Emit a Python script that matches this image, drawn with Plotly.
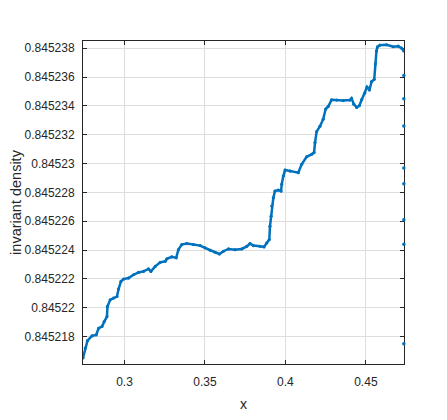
import plotly.graph_objects as go

# Curve samples (x, invariant density)
x_vals = [0.2742, 0.2756, 0.2770, 0.2798, 0.2824, 0.2839, 0.2860, 0.2874, 0.2891, 0.2894,
          0.2911, 0.2932, 0.2953, 0.2963, 0.2978, 0.2994, 0.3025, 0.3056, 0.3087, 0.3118,
          0.3149, 0.3164, 0.3191, 0.3222, 0.3253, 0.3263, 0.3294, 0.3321, 0.3335, 0.3356,
          0.3387, 0.3428, 0.3470, 0.3501, 0.3532, 0.3563, 0.3590, 0.3615, 0.3646, 0.3687,
          0.3729, 0.3760, 0.3780, 0.3801, 0.3842, 0.3867, 0.3884, 0.3900, 0.3904, 0.3911,
          0.3915, 0.3925, 0.3935, 0.3956, 0.3973, 0.3977, 0.3987, 0.3998, 0.4029, 0.4080,
          0.4101, 0.4132, 0.4163, 0.4178, 0.4184, 0.4194, 0.4215, 0.4235, 0.4250, 0.4266,
          0.4287, 0.4318, 0.4359, 0.4401, 0.4411, 0.4425, 0.4443, 0.4459, 0.4474, 0.4494,
          0.4507, 0.4522, 0.4536, 0.4552, 0.4559, 0.4566, 0.4572, 0.4587, 0.4629, 0.4670,
          0.4701, 0.4722, 0.4736]
y_offsets = [16.52, 17.21, 17.72, 18.05, 18.12, 18.58, 18.70, 19.04, 19.39, 20.09,
             20.55, 20.67, 20.78, 21.30, 21.83, 21.99, 22.06, 22.29, 22.45, 22.52,
             22.69, 22.52, 22.87, 23.15, 23.22, 23.39, 23.53, 23.46, 24.03, 24.38,
             24.45, 24.38, 24.31, 24.15, 23.98, 23.85, 23.73, 23.92, 24.08, 24.03,
             24.08, 24.26, 24.45, 24.31, 24.26, 24.22, 24.50, 24.73, 25.65, 26.35,
             27.05, 27.63, 28.09, 28.16, 28.09, 28.56, 29.13, 29.55, 29.48, 29.37,
             29.95, 30.47, 30.64, 30.76, 31.46, 32.21, 32.59, 33.08, 33.78, 33.96,
             34.42, 34.40, 34.37, 34.40, 34.52, 34.12, 33.89, 34.01, 34.44, 34.89,
             35.31, 35.10, 35.69, 35.84, 36.91, 37.81, 38.09, 38.21, 38.24, 38.10,
             38.14, 38.00, 37.81]
y_vals = [0.8452 + v * 1e-6 for v in y_offsets]

# Isolated points on the right edge
edge_x = [0.4736] * 8
edge_offsets = [36.1, 34.5, 32.6, 29.7, 28.6, 26.1, 24.4, 17.5]
edge_y = [0.8452 + v * 1e-6 for v in edge_offsets]

x_ticks = [0.30, 0.35, 0.40, 0.45]
x_ticktext = ["0.3", "0.35", "0.4", "0.45"]
y_ticks = [0.845218, 0.845220, 0.845222, 0.845224, 0.845226, 0.845228,
           0.845230, 0.845232, 0.845234, 0.845236, 0.845238]
y_ticktext = ["0.845218", "0.84522", "0.845222", "0.845224", "0.845226", "0.845228",
              "0.84523", "0.845232", "0.845234", "0.845236", "0.845238"]

blue = "#0072BD"
font_family = "Liberation Sans, Arial, Helvetica"
fig = go.Figure()
fig.add_trace(go.Scatter(x=x_vals, y=y_vals, mode="lines+markers",
                         line=dict(color=blue, width=2.5),
                         marker=dict(color=blue, size=3.2),
                         showlegend=False))
fig.add_trace(go.Scatter(x=edge_x, y=edge_y, mode="markers",
                         marker=dict(color=blue, size=3.5),
                         showlegend=False, cliponaxis=False))

axis_common = dict(showline=True, linecolor="#262626", linewidth=1, mirror="ticks",
                   ticks="inside", ticklen=4, tickcolor="#262626",
                   showgrid=True, gridcolor="#dedede", gridwidth=1,
                   zeroline=False, automargin=False, layer="below traces",
                   tickfont=dict(family=font_family, size=12, color="#262626"))

fig.update_layout(
    width=439, height=412,
    margin=dict(l=75, r=43, t=33, b=56),
    plot_bgcolor="white", paper_bgcolor="white",
    xaxis=dict(range=[0.2742, 0.4737], tickvals=x_ticks, ticktext=x_ticktext,
               title=dict(text="x", font=dict(family=font_family, size=14, color="#262626"),
                          standoff=10),
               ticklabelstandoff=7, **axis_common),
    yaxis=dict(range=[0.8452161, 0.8452385], tickvals=y_ticks, ticktext=y_ticktext,
               title=dict(text="invariant density", font=dict(family=font_family, size=14.5, color="#262626"),
                          standoff=9),
               ticklabelstandoff=5, **axis_common),
)

fig.write_html("out.html")
